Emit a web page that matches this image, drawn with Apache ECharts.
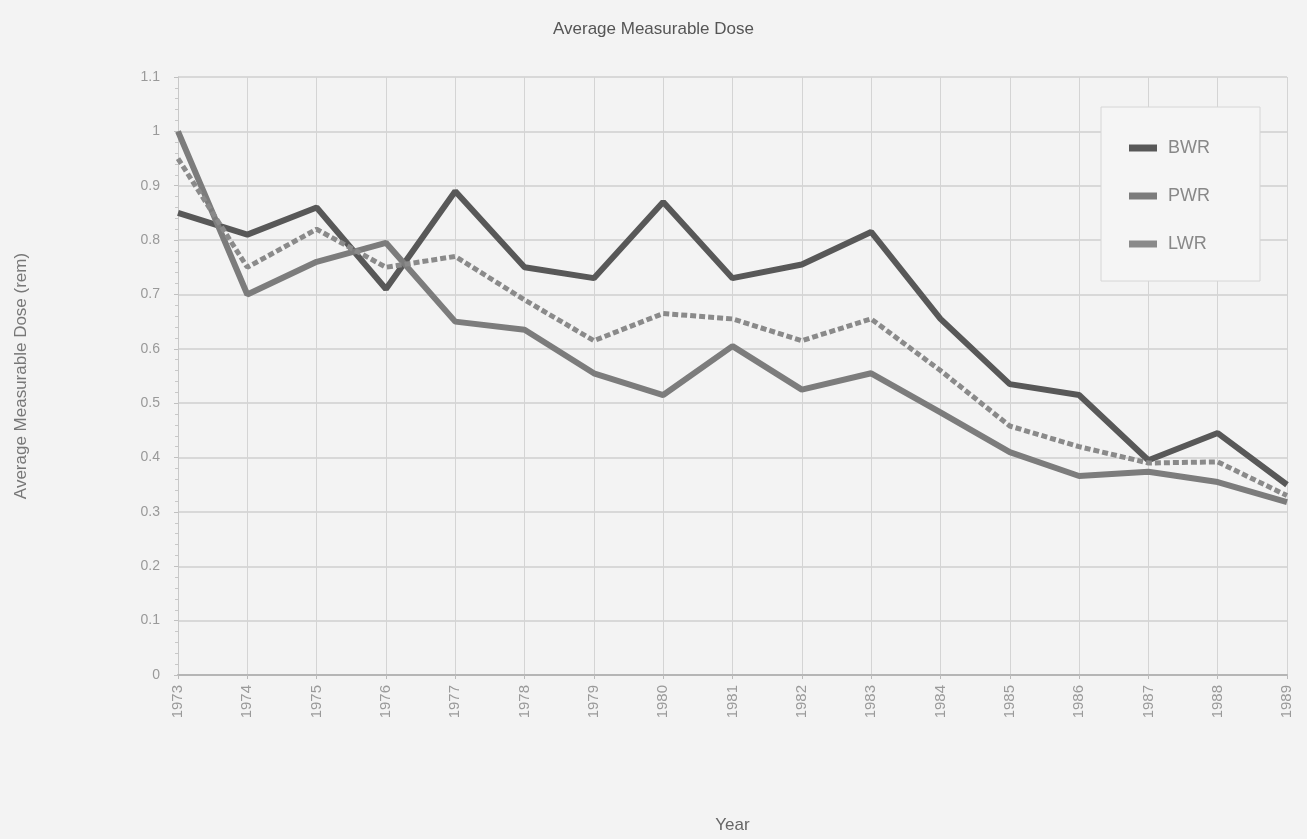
<!DOCTYPE html>
<html>
<head>
<meta charset="utf-8">
<script src="https://cdn.jsdelivr.net/npm/echarts@6/dist/echarts.min.js"></script>
<style>
  html, body { margin: 0; padding: 0; background: #f3f3f3; }
  #chart { width: 1307px; height: 839px; }
</style>
</head>
<body>
<div id="chart"></div>
<script>
// data
var years = ['1973', '1974', '1975', '1976', '1977', '1978', '1979', '1980', '1981',
  '1982', '1983', '1984', '1985', '1986', '1987', '1988', '1989'];
var bwr = [0.85, 0.81, 0.86, 0.71, 0.89, 0.75, 0.73, 0.87, 0.73, 0.755, 0.815, 0.655, 0.535, 0.515, 0.395, 0.445, 0.35];
var pwr = [1.0, 0.70, 0.76, 0.795, 0.65, 0.635, 0.555, 0.515, 0.605, 0.525, 0.555, 0.483, 0.41, 0.366, 0.374, 0.355, 0.318];
var lwr = [0.95, 0.75, 0.82, 0.75, 0.77, 0.69, 0.615, 0.665, 0.655, 0.615, 0.655, 0.56, 0.458, 0.42, 0.39, 0.392, 0.33];

var chart = echarts.init(document.getElementById('chart'));

var option = {
  backgroundColor: '#f3f3f3',
  animation: false,
  title: {
    text: 'Average Measurable Dose',
    left: 'center',
    top: 16,
    textStyle: { fontFamily: 'Liberation Sans', fontWeight: 'normal', fontSize: 17, color: '#555' }
  },
  legend: {
    orient: 'vertical',
    right: 47,
    top: 107,
    padding: [32, 50, 28, 28],
    itemGap: 30,
    itemWidth: 28,
    itemHeight: 7,
    backgroundColor: '#f5f5f5',
    borderColor: '#d6d6d6',
    borderWidth: 1,
    icon: 'rect',
    textStyle: { fontFamily: 'Liberation Sans', fontSize: 18, color: '#888', padding: [0, 0, 0, 6] },
    data: ['BWR', 'PWR', 'LWR']
  },
  grid: { left: 178, right: 20, top: 77, bottom: 162 },
  xAxis: {
    type: 'category',
    data: years,
    boundaryGap: false,
    name: 'Year',
    nameLocation: 'middle',
    nameGap: 142,
    nameTextStyle: { fontFamily: 'Liberation Sans', fontSize: 17, color: '#666' },
    axisLine: { lineStyle: { color: '#b5b5b5', width: 2 } },
    axisTick: { show: true, length: 4, lineStyle: { color: '#bbb' } },
    axisLabel: { rotate: 90, margin: 10, fontFamily: 'Liberation Sans', fontSize: 15, color: '#9a9a9a' },
    splitLine: { show: true, lineStyle: { color: '#d4d4d4', width: 1 } }
  },
  yAxis: {
    type: 'value',
    min: 0,
    max: 1.1,
    interval: 0.1,
    name: 'Average Measurable Dose (rem)',
    nameLocation: 'middle',
    nameGap: 148,
    nameTextStyle: { fontFamily: 'Liberation Sans', fontSize: 17, color: '#777' },
    axisLine: { show: true, lineStyle: { color: '#c8c8c8' } },
    axisTick: { show: true, length: 4, lineStyle: { color: '#c0c0c0' } },
    minorTick: { show: true, splitNumber: 5, length: 3, lineStyle: { color: '#c8c8c8' } },
    axisLabel: {
      margin: 18,
      fontFamily: 'Liberation Sans', fontSize: 14, color: '#999',
      formatter: function (v) { return String(Math.round(v * 10) / 10); }
    },
    splitLine: { show: true, lineStyle: { color: '#cfcfcf', width: 1.5 } }
  },
  series: [{
    name: 'BWR',
    type: 'line',
    data: bwr,
    symbol: 'none',
    itemStyle: { color: '#585858' },
    lineStyle: { color: '#585858', width: 6 }
  }, {
    name: 'PWR',
    type: 'line',
    data: pwr,
    symbol: 'none',
    itemStyle: { color: '#7c7c7c' },
    lineStyle: { color: '#7c7c7c', width: 6 }
  }, {
    name: 'LWR',
    type: 'line',
    data: lwr,
    symbol: 'none',
    itemStyle: { color: '#8a8a8a' },
    lineStyle: { color: '#8a8a8a', width: 5, type: [6, 3] }
  }]
};

chart.setOption(option);
</script>
</body>
</html>
